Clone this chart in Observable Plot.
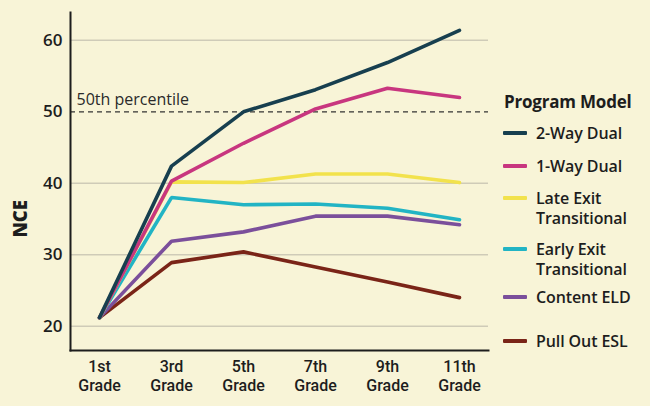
<!DOCTYPE html>
<html>
<head>
<meta charset="utf-8">
<script src="https://cdn.jsdelivr.net/npm/d3@7"></script>
<script src="https://cdn.jsdelivr.net/npm/@observablehq/plot@0.6"></script>
<style>
  html, body { margin: 0; padding: 0; background: #f8f4d7; }
  #wrap { position: relative; width: 650px; height: 406px; background: #f8f4d7; overflow: hidden; font-family: "Open Sans", Lato, sans-serif; }
  #legend { position: absolute; left: 0; top: 0; width: 650px; height: 406px; pointer-events: none; color: #1d1d1d; }
  .lg-title { position: absolute; left: 504px; font-weight: 700; font-size: 17px; white-space: nowrap; letter-spacing: -0.2px; }
  .lg-item { position: absolute; left: 503px; white-space: nowrap; }
  .lg-sw { position: absolute; left: 0; width: 24px; height: 4px; border-radius: 1px; }
  .lg-txt { position: absolute; left: 33px; font-weight: 600; font-size: 16px; line-height: 20px; letter-spacing: -0.1px; }
</style>
</head>
<body>
<div id="wrap"><div id="chart"></div><div id="legend"></div></div>
<script>
const grades = ["1st Grade", "3rd Grade", "5th Grade", "7th Grade", "9th Grade", "11th Grade"];
const seriesNames = ["2-Way Dual", "1-Way Dual", "Late Exit Transitional", "Early Exit Transitional", "Content ELD", "Pull Out ESL"];
const twoWayDual      = [21.2, 42.4, 50.0, 53.1, 56.9, 61.4];
const oneWayDual      = [21.2, 40.3, 45.6, 50.4, 53.3, 52.0];
const lateExit        = [21.2, 40.2, 40.1, 41.3, 41.3, 40.1];
const earlyExit       = [21.2, 38.0, 37.0, 37.1, 36.5, 34.9];
const contentELD      = [21.2, 31.9, 33.2, 35.4, 35.4, 34.2];
const pullOutESL      = [21.2, 28.9, 30.4, 28.3, 26.2, 24.0];
const seriesColors = ["#173f4f", "#c8367f", "#f2e24c", "#22b4c4", "#7b4f9b", "#7a2417"];
const yTicks = [20, 30, 40, 50, 60];
const gridValues = [20, 30, 40, 60];
const percentile = 50;
const percentileLabel = "50th percentile";
const yLabel = "NCE";
const legendTitle = "Program Model";
const legendLines = [["2-Way Dual"], ["1-Way Dual"], ["Late Exit", "Transitional"], ["Early Exit", "Transitional"], ["Content ELD"], ["Pull Out ESL"]];

const allSeries = [twoWayDual, oneWayDual, lateExit, earlyExit, contentELD, pullOutESL];
const rows = [];
allSeries.forEach((vals, i) => vals.forEach((v, j) => rows.push({model: seriesNames[i], grade: grades[j], value: v})));
const drawOrder = seriesNames.slice().reverse();

const chart = Plot.plot({
  width: 650,
  height: 406,
  marginLeft: 70,
  marginRight: 162,
  marginTop: 12,
  marginBottom: 56,
  style: {background: "transparent", fontFamily: "'Open Sans', Lato, sans-serif", color: "#1d1d1d"},
  x: {type: "point", domain: grades, padding: 0.4},
  y: {domain: [16.6, 63.9]},
  color: {domain: seriesNames, range: seriesColors},
  marks: [
    Plot.ruleY(gridValues, {stroke: "#cfcbb8", strokeWidth: 1.5}),
    Plot.ruleY([percentile], {stroke: "#333", strokeWidth: 1.3, strokeDasharray: "5,4"}),
    Plot.text([percentileLabel], {frameAnchor: "left", y: () => percentile, text: d => d, textAnchor: "start", dx: 6, dy: -12, fontSize: 16, fill: "#2a2a2a"}),
    ...drawOrder.map(name => Plot.line(rows.filter(r => r.model === name), {x: "grade", y: "value", stroke: "model", strokeWidth: 3.6, strokeLinejoin: "miter", strokeLinecap: "round"})),
    Plot.axisY(yTicks, {tickSize: 0, tickPadding: 8, fontSize: 17, fontWeight: 600, label: null}),
    Plot.axisX({tickSize: 0, tickPadding: 10, fontSize: 16, fontWeight: 500, fontFamily: "Roboto, sans-serif", tickFormat: d => d.split(" ")[0], label: null}),
    Plot.axisX({tickSize: 0, tickPadding: 29, fontSize: 16, fontWeight: 500, fontFamily: "Roboto, sans-serif", tickFormat: d => d.split(" ")[1], label: null}),
    Plot.text([yLabel], {frameAnchor: "left", y: () => 32.4, text: d => d, rotate: -90, dx: -49, fontSize: 18.5, fontWeight: 800, fill: "#1d1d1d"}),
    Plot.frame({anchor: "left", stroke: "#1d1d1d", strokeWidth: 2}),
    Plot.frame({anchor: "bottom", stroke: "#1d1d1d", strokeWidth: 2})
  ]
});
document.getElementById("chart").appendChild(chart);

const legend = document.getElementById("legend");
const title = document.createElement("div");
title.className = "lg-title";
title.style.top = "90px";
title.textContent = legendTitle;
legend.appendChild(title);
const itemCenters = [133, 166, 198, 249, 297, 341];
legendLines.forEach((lines, i) => {
  const it = document.createElement("div");
  it.className = "lg-item";
  it.style.top = (itemCenters[i] - 10) + "px";
  const sw = document.createElement("div");
  sw.className = "lg-sw";
  sw.style.background = seriesColors[i];
  sw.style.top = "8px";
  const tx = document.createElement("div");
  tx.className = "lg-txt";
  tx.innerHTML = lines.join("<br>");
  it.appendChild(sw);
  it.appendChild(tx);
  legend.appendChild(it);
});
</script>
</body>
</html>
